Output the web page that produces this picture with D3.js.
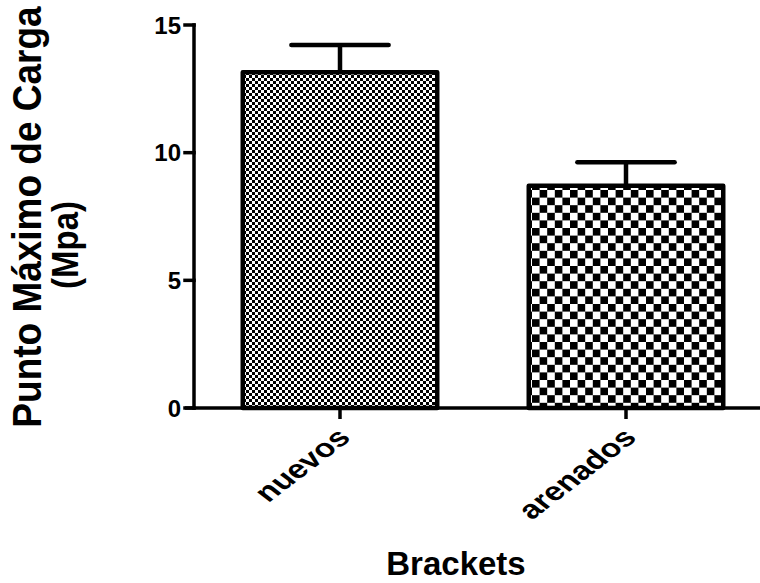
<!DOCTYPE html>
<html><head><meta charset="utf-8">
<script src="https://cdn.jsdelivr.net/npm/d3@7"></script>
<style>body{margin:0;background:#fff}svg{display:block}text{font-family:"Liberation Sans",Arial,sans-serif;font-weight:bold;fill:#000}</style>
</head><body>
<script>
const categories = ["nuevos", "arenados"];
const means = [13.15, 8.7];
const errors = [1.07, 0.92];
const yTicks = [0, 5, 10, 15];
const yTitle = ["Punto Máximo de Carga", "(Mpa)"];
const xTitle = "Brackets";

const W = 760, H = 583;
const svg = d3.select("body").append("svg").attr("width", W).attr("height", H);
const defs = svg.append("defs");
function checker(id, s) {
  const p = defs.append("pattern").attr("id", id).attr("patternUnits", "userSpaceOnUse")
    .attr("width", 2 * s).attr("height", 2 * s);
  p.append("rect").attr("width", 2 * s).attr("height", 2 * s).attr("fill", "#fff");
  p.append("rect").attr("width", s).attr("height", s).attr("fill", "#000");
  p.append("rect").attr("x", s).attr("y", s).attr("width", s).attr("height", s).attr("fill", "#000");
}
checker("p0", 3);
checker("p1", 7.6);

const y = d3.scaleLinear().domain([0, 15]).range([408, 25]);
const x = d3.scaleBand().domain(categories).range([197, 769]).paddingInner(0.32).paddingOuter(0.16);
const axisX0 = 194;

categories.forEach((c, i) => {
  const bx = x(c), bw = x.bandwidth(), cx = bx + bw / 2;
  const capW = bw * 0.5;
  svg.append("line").attr("x1", cx).attr("x2", cx).attr("y1", y(means[i])).attr("y2", y(means[i] + errors[i]))
    .attr("stroke", "#000").attr("stroke-width", 4.5);
  svg.append("line").attr("x1", cx - capW / 2).attr("x2", cx + capW / 2)
    .attr("y1", y(means[i] + errors[i])).attr("y2", y(means[i] + errors[i]))
    .attr("stroke", "#000").attr("stroke-width", 4.5).attr("stroke-linecap", "round");
  svg.append("rect").attr("x", bx).attr("y", y(means[i])).attr("width", bw).attr("height", y(0) - y(means[i]))
    .attr("fill", `url(#p${i})`).attr("stroke", "#000").attr("stroke-width", 4.5).attr("stroke-linejoin", "round");
});

const ya = svg.append("g");
ya.append("line").attr("x1", axisX0).attr("x2", axisX0).attr("y1", y(15)).attr("y2", y(0))
  .attr("stroke", "#000").attr("stroke-width", 3.5).attr("stroke-linecap", "square");
yTicks.forEach(t => {
  ya.append("line").attr("x1", axisX0 - 9).attr("x2", axisX0).attr("y1", y(t)).attr("y2", y(t))
    .attr("stroke", "#000").attr("stroke-width", 3.5).attr("stroke-linecap", "square");
  ya.append("text").attr("x", axisX0 - 13).attr("y", y(t)).attr("dy", "0.36em")
    .attr("text-anchor", "end").attr("font-size", 24).text(t);
});

const xa = svg.append("g");
xa.append("line").attr("x1", axisX0 - 9).attr("x2", W).attr("y1", y(0)).attr("y2", y(0))
  .attr("stroke", "#000").attr("stroke-width", 3.5);
categories.forEach(c => {
  const cx = x(c) + x.bandwidth() / 2;
  xa.append("line").attr("x1", cx).attr("x2", cx).attr("y1", y(0)).attr("y2", y(0) + 11)
    .attr("stroke", "#000").attr("stroke-width", 3.5);
  xa.append("text").attr("transform", `translate(${cx + 12},${y(0) + 31}) scale(1.3,1) rotate(-45)`)
    .attr("text-anchor", "end").attr("font-size", 26).text(c);
});

svg.append("text").attr("transform", `translate(41,217) scale(1.12,1) rotate(-90)`).attr("text-anchor", "middle")
  .attr("font-size", 37).text(yTitle[0]);
svg.append("text").attr("transform", `translate(78,245) scale(1.12,1) rotate(-90)`).attr("text-anchor", "middle")
  .attr("font-size", 33).text(yTitle[1]);
svg.append("text").attr("x", 456).attr("y", 575).attr("text-anchor", "middle")
  .attr("font-size", 33).text(xTitle);
</script>
</body></html>
